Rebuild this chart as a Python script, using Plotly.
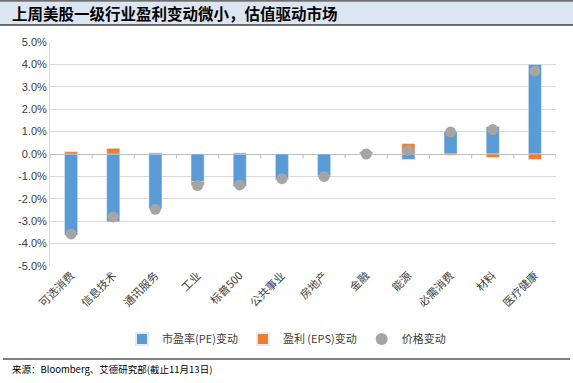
import plotly.graph_objects as go

categories = ["可选消费", "信息技术", "通讯服务", "工业", "标普500", "公共事业",
              "房地产", "金融", "能源", "必需消费", "材料", "医疗健康"]
pe_change = [-3.62, -3.02, -2.45, -1.24, -1.45, -1.12, -0.96, 0.10, -0.24, 1.00, 1.22, 4.00]
eps_change = [0.10, 0.25, 0.05, -0.16, 0.05, -0.03, -0.07, -0.03, 0.46, -0.05, -0.15, -0.24]
price_change = [-3.57, -2.81, -2.47, -1.41, -1.38, -1.10, -1.00, 0.00, 0.16, 0.98, 1.09, 3.70]
y_ticks = [-5, -4, -3, -2, -1, 0, 1, 2, 3, 4, 5]

W, H = 573, 383
x0p, x1p, y0p, y1p = 50, 556, 42, 266

def px(x):
    return x / W

def py(y):
    return 1 - y / H

font_cn = "Noto Sans CJK SC"

fig = go.Figure()
fig.add_trace(go.Bar(x=categories, y=pe_change, name="市盈率(PE)变动",
                     marker_color="#5B9BD5", width=0.31))
fig.add_trace(go.Bar(x=categories, y=eps_change, name="盈利 (EPS)变动",
                     marker_color="#ED7D31", width=0.31))
fig.add_trace(go.Scatter(x=categories, y=price_change, name="价格变动", mode="markers",
                         marker=dict(color="#A5A5A5", size=11)))

shapes = []
shapes.append(dict(type="rect", xref="paper", yref="paper", x0=0, x1=1,
                   y0=py(25), y1=py(1), fillcolor="#DCE6F2", line_width=0, layer="below"))
shapes.append(dict(type="line", xref="paper", yref="paper", x0=0, x1=1,
                   y0=py(0.8), y1=py(0.8), line=dict(color="#404040", width=1.2)))
shapes.append(dict(type="line", xref="paper", yref="paper", x0=0, x1=1,
                   y0=py(25), y1=py(25), line=dict(color="#404040", width=1.5)))
shapes.append(dict(type="line", xref="paper", yref="paper", x0=px(3), x1=px(570),
                   y0=py(359), y1=py(359), line=dict(color="#000000", width=1.2)))
for i in range(len(categories) + 1):
    shapes.append(dict(type="line", xref="x", yref="y", x0=i - 0.5, x1=i - 0.5,
                       y0=0, y1=-0.2, line=dict(color="#BFBFBF", width=1)))

fig.update_layout(
    width=W, height=H,
    margin=dict(l=0, r=0, t=0, b=0),
    paper_bgcolor="white", plot_bgcolor="white",
    barmode="relative", bargap=0.69,
    showlegend=True,
    legend=dict(orientation="h", x=0.5, xanchor="center", y=py(339), yanchor="middle",
                font=dict(family=font_cn, size=11, color="#404040"),
                itemwidth=30, tracegroupgap=0, itemsizing="constant"),
    shapes=shapes,
    xaxis=dict(domain=[px(x0p), px(x1p)], range=[-0.5, 11.5], tickangle=-45,
               showgrid=False, showline=False, ticks="",
               tickfont=dict(family=font_cn, size=11, color="#404040"), automargin=False),
    yaxis=dict(domain=[py(y1p), py(y0p)], range=[-5, 5], tickvals=y_ticks,
               ticktext=[f"{v:.1f}%" for v in y_ticks],
               showgrid=True, gridcolor="#D9D9D9", gridwidth=1,
               zeroline=True, zerolinecolor="#BFBFBF", zerolinewidth=1.2,
               showline=True, linecolor="#D9D9D9", linewidth=1,
               ticks="", ticklen=0,
               tickfont=dict(family="Liberation Sans", size=11, color="#404040"),
               automargin=False),
    annotations=[
        dict(text="<b>上周美股一级行业盈利变动微小，估值驱动市场</b>", xref="paper", yref="paper",
             x=px(10), y=py(13), xanchor="left", yanchor="middle", showarrow=False,
             font=dict(family=font_cn, size=15.5, color="#000000")),
        dict(text="来源：Bloomberg、艾德研究部(截止11月13日)", xref="paper", yref="paper",
             x=px(10), y=py(369), xanchor="left", yanchor="middle", showarrow=False,
             font=dict(family=font_cn, size=9.5, color="#000000")),
    ],
)

fig.write_html("out.html", config={"displayModeBar": False},
               post_script="document.body.style.margin='0';document.body.style.overflow='hidden';")
